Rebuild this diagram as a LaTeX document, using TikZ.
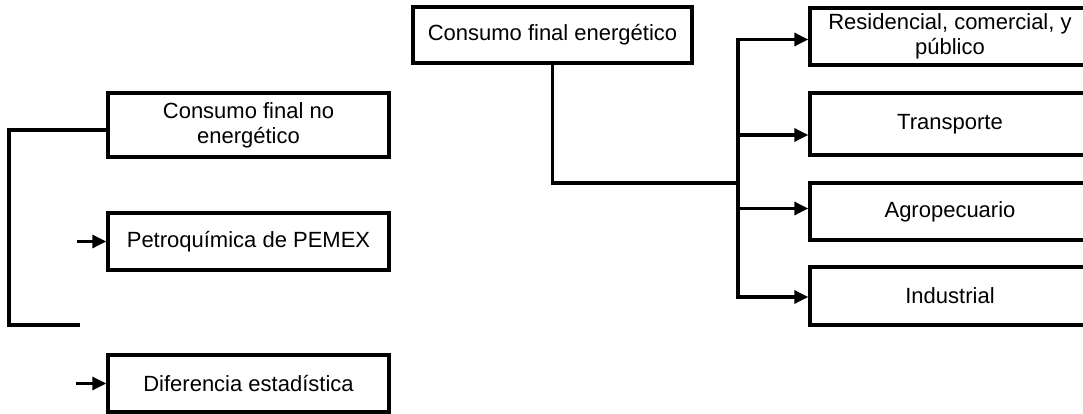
\documentclass[tikz,border=0pt]{standalone}
\usepackage{fontspec}
\setmainfont{Liberation Sans}
\usetikzlibrary{arrows.meta}
\begin{document}
\begin{tikzpicture}[x=1pt,y=-1pt,
  box/.style={draw,line width=3.4pt,inner sep=0pt,align=center,
    font=\fontsize{22}{25}\selectfont},
  link/.style={line width=3.2pt},
  arr/.style={link,-{Triangle[length=14pt,width=13pt]}}]
\useasboundingbox (0,0) rectangle (1083,414);
\clip (0,0) rectangle (1083,414);

% left group: non-energy consumption
\node[box,minimum width=281pt,minimum height=64pt] (cne) at (248.5,125) {Consumo final no\\energético};
\node[box,minimum width=281pt,minimum height=57pt] (pem) at (248.5,241.5) {Petroquímica de PEMEX};
\node[box,minimum width=281pt,minimum height=57pt] (dif) at (248.5,383.5) {Diferencia estadística};

\coordinate (bl) at (9,325);
\coordinate (be) at (80,325);
\draw[link] ([yshift=-5pt]cne.west) -| (bl) -- (be);

\coordinate (pa) at ([xshift=-29pt]pem.west);
\coordinate (da) at ([xshift=-30pt]dif.west);
\draw[arr] (pa) -- (pem.west);
\draw[arr] (da) -- (dif.west);

% right group: energy consumption by sector
\node[box,minimum width=279pt,minimum height=56pt] (cfe) at (552.5,35) {Consumo final energético};

\node[box,minimum width=280pt,minimum height=57pt] (res) at (950,36.5) {Residencial, comercial, y\\público};
\node[box,minimum width=280pt,minimum height=62pt] (tra) at (950,124) {Transporte};
\node[box,minimum width=280pt,minimum height=57pt] (agr) at (950,211.5) {Agropecuario};
\node[box,minimum width=280pt,minimum height=58pt] (ind) at (950,296) {Industrial};

\coordinate (jn) at (738,183);
\draw[link] (cfe.south) |- (jn);
\draw[arr] (jn) |- ([yshift=-3pt]res.west);
\draw[arr] (jn) |- ([yshift=-11pt]tra.west);
\draw[arr] (jn) |- ([yshift=3pt]agr.west);
\draw[arr] (jn) |- ([yshift=-1pt]ind.west);
\end{tikzpicture}
\end{document}
